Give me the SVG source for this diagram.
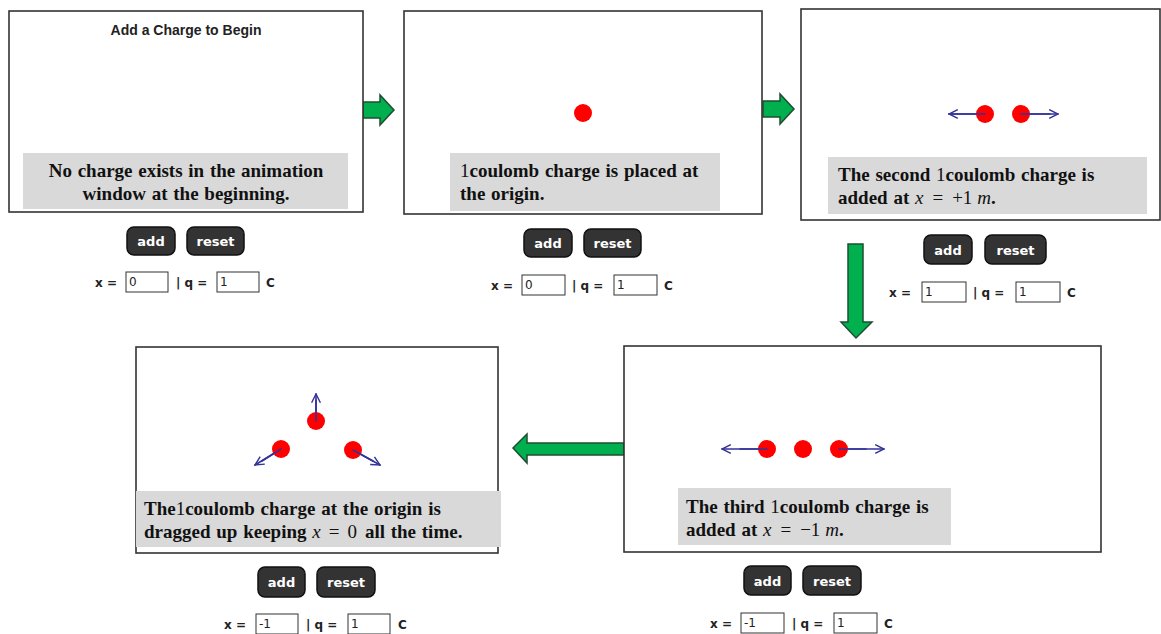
<svg xmlns="http://www.w3.org/2000/svg" width="1161" height="634" viewBox="0 0 1161 634">
<style>
.panel{fill:#fff;stroke:#333;stroke-width:1.6}
.cap{fill:#d9d9d9}
.t{font-family:"Liberation Serif",serif;font-weight:bold;font-size:19px;fill:#111;word-spacing:1px}
.m{font-weight:normal}
.mi{font-weight:normal;font-style:italic}
.title{font-family:"Liberation Sans",Arial,sans-serif;font-weight:bold;font-size:14px;fill:#222}
.btn{fill:#333;stroke:#111;stroke-width:1.5}
.bt{font-family:"DejaVu Sans",Verdana,sans-serif;font-weight:bold;font-size:13px;fill:#fff;text-anchor:middle}
.lab{font-family:"DejaVu Sans",Verdana,sans-serif;font-weight:bold;font-size:12px;fill:#222}
.box{fill:#fff;stroke:#333;stroke-width:1}
.val{font-family:"DejaVu Sans",Verdana,sans-serif;font-size:12px;fill:#222}
.ch{fill:#f00}
.fv{stroke:#33339a;stroke-width:1.6;fill:none;stroke-linecap:round;stroke-linejoin:round}
.ga{fill:#00b04f;stroke:#1f4d32;stroke-width:1.5;stroke-linejoin:miter}
</style>
<defs>
<marker id="ah" viewBox="0 0 10 10" refX="9" refY="5" markerWidth="11" markerHeight="11" markerUnits="userSpaceOnUse" orient="auto">
<path d="M1,1 L9,5 L1,9" fill="none" stroke="#33339a" stroke-width="1.3"/>
</marker>
</defs>

<g id="connectors">
<path class="ga" d="M363,102 L380,102 L380,95 L394,110 L380,125 L380,118 L363,118 Z"/>
<path class="ga" d="M763,101 L780,101 L780,94 L794,109 L780,124 L780,117 L763,117 Z"/>
<path class="ga" d="M848,244 L863,244 L863,322 L872,322 L856,338 L841,322 L848,322 Z"/>
<path class="ga" d="M624,443 L527,443 L527,434 L513,448 L527,463 L527,455 L624,455 Z"/>
</g>

<g id="panel1">
<rect class="panel" x="9" y="11" width="354" height="201"/>
<text class="title" x="186" y="35" text-anchor="middle">Add a Charge to Begin</text>
<rect class="cap" x="23" y="153" width="325" height="56"/>
<text class="t" x="186" y="177" text-anchor="middle">No charge exists in the animation</text>
<text class="t" x="186" y="200" text-anchor="middle">window at the beginning.</text>
<rect class="btn" x="127" y="227" width="48" height="28" rx="7"/>
<text class="bt" x="151" y="246">add</text>
<rect class="btn" x="187" y="227" width="57" height="28" rx="7"/>
<text class="bt" x="215.5" y="246">reset</text>
<text class="lab" x="95" y="287">x =</text>
<rect class="box" x="126" y="272" width="42" height="20"/>
<text class="val" x="129" y="286">0</text>
<text class="lab" x="176" y="287">| q =</text>
<rect class="box" x="217" y="272" width="42" height="20"/>
<text class="val" x="220" y="286">1</text>
<text class="lab" x="266" y="287">C</text>
</g>

<g id="panel2">
<rect class="panel" x="404" y="11" width="358" height="203"/>
<circle class="ch" cx="583" cy="113" r="9"/>
<rect class="cap" x="450" y="153" width="270" height="58"/>
<text class="t" x="460" y="177"><tspan class="m">1</tspan>coulomb charge is placed at</text>
<text class="t" x="460" y="200">the origin.</text>
<rect class="btn" x="524" y="229" width="48" height="28" rx="7"/>
<text class="bt" x="548" y="248">add</text>
<rect class="btn" x="584" y="229" width="57" height="28" rx="7"/>
<text class="bt" x="612.5" y="248">reset</text>
<text class="lab" x="491" y="290">x =</text>
<rect class="box" x="522" y="275" width="43" height="20"/>
<text class="val" x="525" y="289">0</text>
<text class="lab" x="572" y="290">| q =</text>
<rect class="box" x="614" y="275" width="43" height="20"/>
<text class="val" x="617" y="289">1</text>
<text class="lab" x="664" y="290">C</text>
</g>

<g id="panel3">
<rect class="panel" x="801" y="9" width="359" height="211"/>
<line class="fv" x1="985" y1="114" x2="949" y2="114" marker-end="url(#ah)"/>
<line class="fv" x1="1021" y1="114" x2="1058" y2="114" marker-end="url(#ah)"/>
<circle class="ch" cx="985" cy="114" r="9"/>
<circle class="ch" cx="1021" cy="114" r="9"/>
<line class="fv" x1="985" y1="114" x2="949" y2="114"/>
<line class="fv" x1="1021" y1="114" x2="1050" y2="114"/>
<rect class="cap" x="828" y="157" width="319" height="57"/>
<text class="t" x="838" y="181">The second <tspan class="m">1</tspan>coulomb charge is</text>
<text class="t" x="838" y="204">added at <tspan class="mi">x</tspan><tspan class="m" dx="9">=</tspan><tspan class="m" dx="9">+1</tspan><tspan class="mi" dx="5">m</tspan>.</text>
<rect class="btn" x="924" y="235" width="48" height="29" rx="7"/>
<text class="bt" x="948" y="255">add</text>
<rect class="btn" x="985" y="235" width="61" height="29" rx="7"/>
<text class="bt" x="1015.5" y="255">reset</text>
<text class="lab" x="889" y="297">x =</text>
<rect class="box" x="922" y="282" width="44" height="20"/>
<text class="val" x="925" y="296">1</text>
<text class="lab" x="973" y="297">| q =</text>
<rect class="box" x="1016" y="282" width="44" height="20"/>
<text class="val" x="1019" y="296">1</text>
<text class="lab" x="1067" y="297">C</text>
</g>

<g id="panel4">
<rect class="panel" x="624" y="346" width="477" height="206"/>
<line class="fv" x1="767" y1="449" x2="722" y2="449" marker-end="url(#ah)"/>
<line class="fv" x1="839" y1="449" x2="884" y2="449" marker-end="url(#ah)"/>
<circle class="ch" cx="767" cy="449" r="9"/>
<circle class="ch" cx="803" cy="449" r="9"/>
<circle class="ch" cx="839" cy="449" r="9"/>
<line class="fv" x1="767" y1="449" x2="740" y2="449"/>
<line class="fv" x1="839" y1="449" x2="866" y2="449"/>
<rect class="cap" x="678" y="488" width="273" height="57"/>
<text class="t" x="686" y="513">The third <tspan class="m">1</tspan>coulomb  charge is</text>
<text class="t" x="686" y="536">added at <tspan class="mi">x</tspan><tspan class="m" dx="9">=</tspan><tspan class="m" dx="9">−1</tspan><tspan class="mi" dx="5">m</tspan>.</text>
<rect class="btn" x="744" y="566" width="47" height="29" rx="7"/>
<text class="bt" x="767.5" y="586">add</text>
<rect class="btn" x="803" y="566" width="58" height="29" rx="7"/>
<text class="bt" x="832" y="586">reset</text>
<text class="lab" x="710" y="628">x =</text>
<rect class="box" x="741" y="613" width="43" height="20"/>
<text class="val" x="744" y="627">-1</text>
<text class="lab" x="792" y="628">| q =</text>
<rect class="box" x="834" y="613" width="43" height="20"/>
<text class="val" x="837" y="627">1</text>
<text class="lab" x="884" y="628">C</text>
</g>

<g id="panel5">
<rect class="panel" x="136" y="347" width="362" height="206"/>
<line class="fv" x1="316" y1="421" x2="316" y2="394" marker-end="url(#ah)"/>
<line class="fv" x1="281" y1="449" x2="255" y2="465" marker-end="url(#ah)"/>
<line class="fv" x1="353" y1="450" x2="380" y2="465" marker-end="url(#ah)"/>
<circle class="ch" cx="316" cy="421" r="9"/>
<circle class="ch" cx="281" cy="449" r="9"/>
<circle class="ch" cx="353" cy="450" r="9"/>
<line class="fv" x1="316" y1="421" x2="316" y2="400"/>
<line class="fv" x1="281" y1="449" x2="262" y2="461"/>
<line class="fv" x1="353" y1="450" x2="373" y2="461"/>
<rect class="cap" x="136" y="491" width="365" height="56"/>
<text class="t" x="144" y="515">The<tspan class="m">1</tspan>coulomb  charge at the origin is</text>
<text class="t" x="144" y="538">dragged up keeping <tspan class="mi">x</tspan><tspan class="m" dx="8">=</tspan><tspan class="m" dx="8">0</tspan><tspan dx="8">all the time.</tspan></text>
<rect class="btn" x="258" y="567" width="47" height="30" rx="7"/>
<text class="bt" x="281.5" y="587">add</text>
<rect class="btn" x="317" y="567" width="58" height="30" rx="7"/>
<text class="bt" x="346" y="587">reset</text>
<text class="lab" x="224" y="629">x =</text>
<rect class="box" x="256" y="614" width="42" height="20"/>
<text class="val" x="259" y="628">-1</text>
<text class="lab" x="306" y="629">| q =</text>
<rect class="box" x="348" y="614" width="42" height="20"/>
<text class="val" x="351" y="628">1</text>
<text class="lab" x="398" y="629">C</text>
</g>
</svg>
